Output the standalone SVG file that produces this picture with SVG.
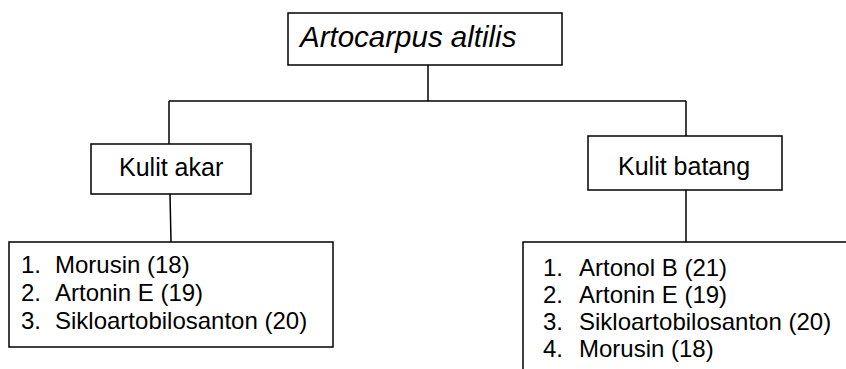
<svg xmlns="http://www.w3.org/2000/svg" width="846" height="369" viewBox="0 0 846 369">
<style>
.box{fill:#fff;stroke:#000;stroke-width:1.5}
.ln{fill:none;stroke:#000;stroke-width:1.5}
text{font-family:"Liberation Sans",Arial,sans-serif;fill:#000}
.lab{font-size:25px}
.li{font-size:24px}
</style>
<rect width="846" height="369" fill="#fff"/>
<g id="connectors">
<line class="ln" x1="428" y1="65" x2="428" y2="101"/>
<line class="ln" x1="169" y1="101" x2="686" y2="101"/>
<line class="ln" x1="169" y1="101" x2="169" y2="144"/>
<line class="ln" x1="686" y1="101" x2="686" y2="136"/>
<line class="ln" x1="170" y1="194" x2="171" y2="242"/>
<line class="ln" x1="686" y1="190" x2="686" y2="242"/>
</g>
<g id="root">
<rect class="box" x="288" y="13" width="274" height="52"/>
<text x="300" y="47" font-size="29.5" font-style="italic">Artocarpus altilis</text>
</g>
<g id="kulit-akar">
<rect class="box" x="91" y="144" width="160" height="50"/>
<text class="lab" x="119" y="176">Kulit akar</text>
</g>
<g id="kulit-batang">
<rect class="box" x="588" y="136" width="194" height="54"/>
<text class="lab" x="618" y="175">Kulit batang</text>
</g>
<g id="list-akar">
<rect class="box" x="9" y="242" width="324" height="105"/>
<text class="li" x="21" y="273">1.</text><text class="li" x="55" y="273">Morusin (18)</text>
<text class="li" x="21" y="301">2.</text><text class="li" x="55" y="301">Artonin E (19)</text>
<text class="li" x="21" y="329">3.</text><text class="li" x="55" y="329">Sikloartobilosanton (20)</text>
</g>
<g id="list-batang">
<path class="ln" d="M523 370 V242 H848"/>
<text class="li" x="543" y="276">1.</text><text class="li" x="579" y="276">Artonol B (21)</text>
<text class="li" x="543" y="303">2.</text><text class="li" x="579" y="303">Artonin E (19)</text>
<text class="li" x="543" y="330">3.</text><text class="li" x="579" y="330">Sikloartobilosanton (20)</text>
<text class="li" x="543" y="357">4.</text><text class="li" x="579" y="357">Morusin (18)</text>
</g>
</svg>
